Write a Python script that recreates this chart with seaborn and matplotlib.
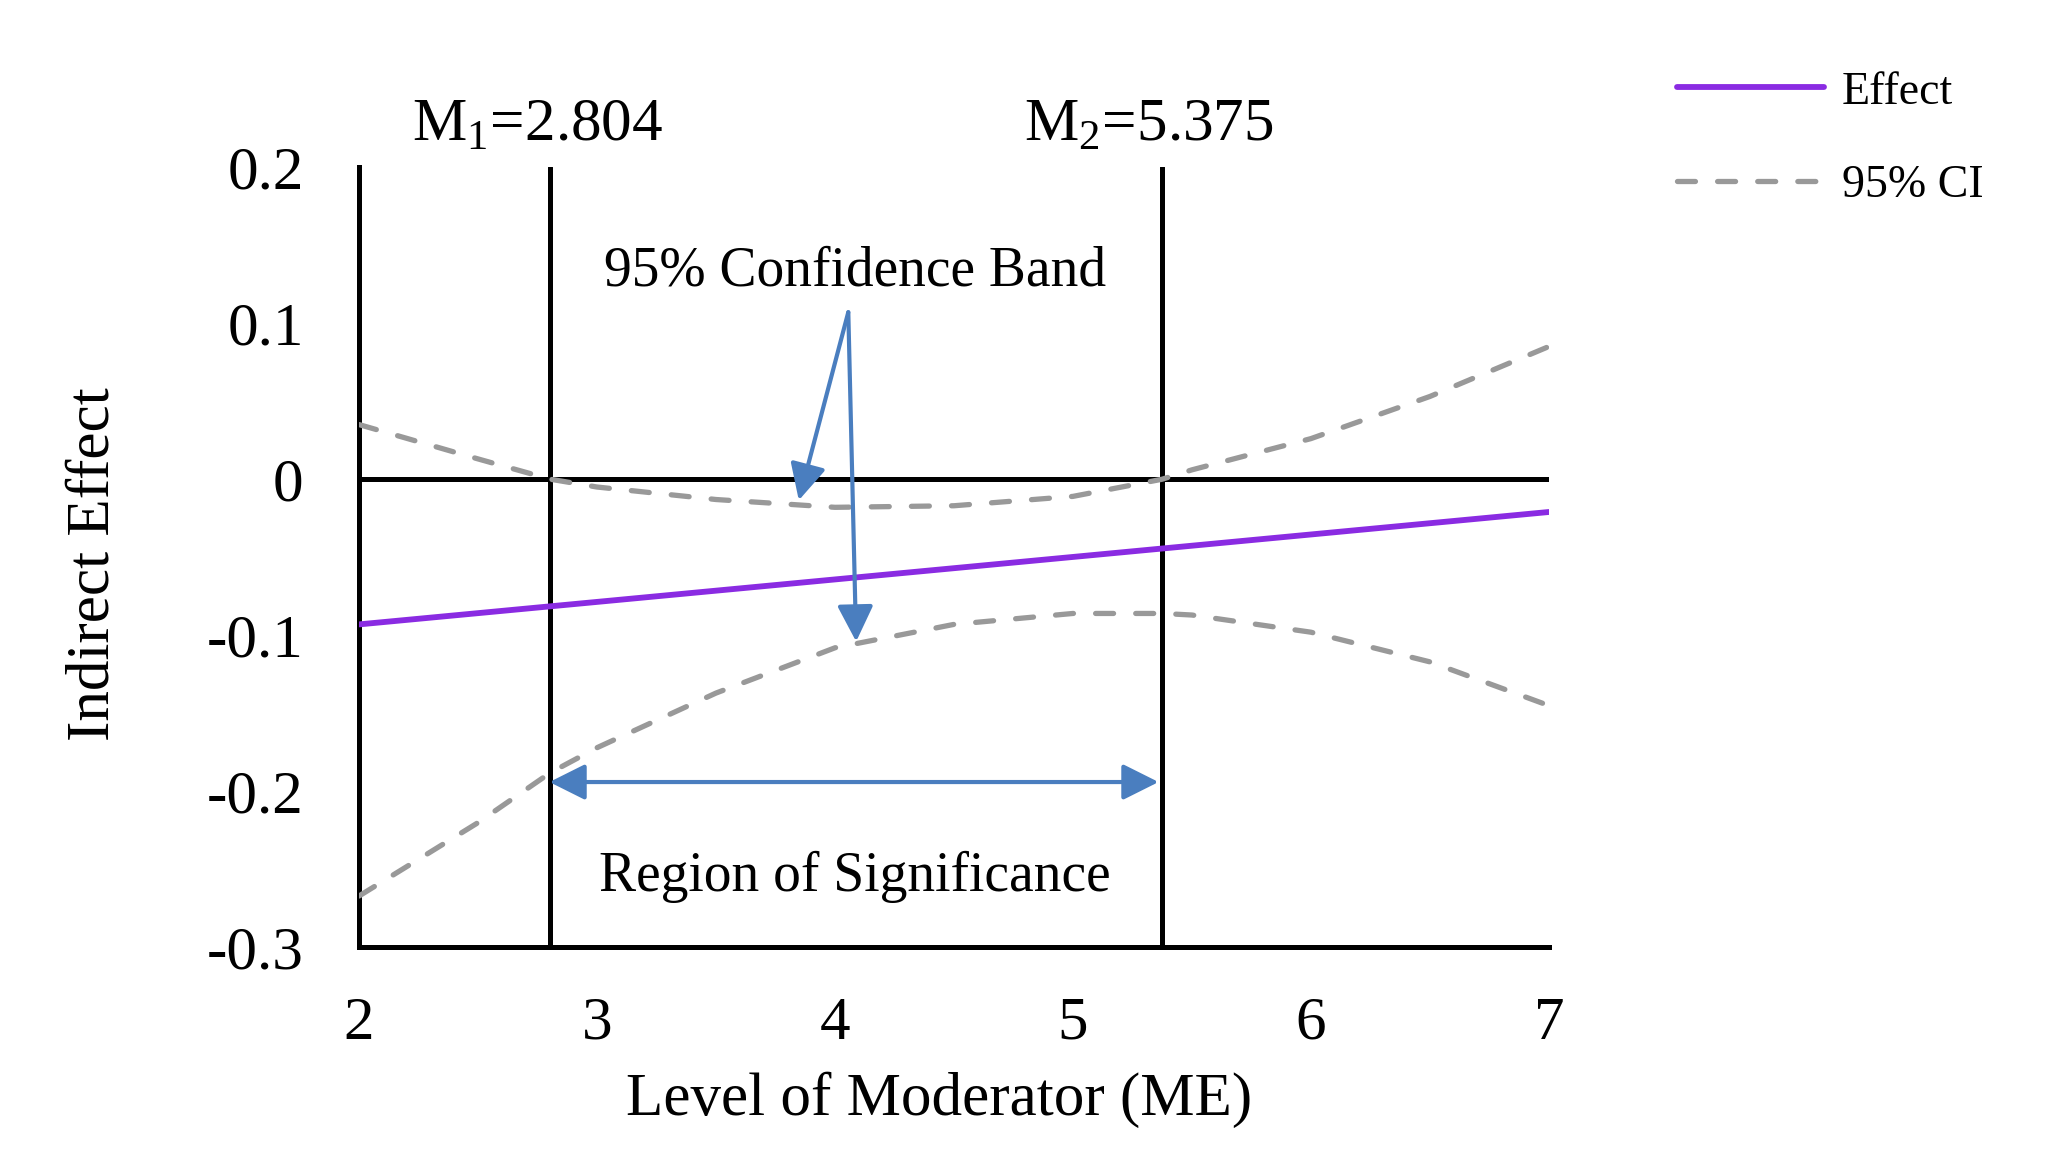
import numpy as np
import pandas as pd
import matplotlib
matplotlib.use("Agg")
import matplotlib.pyplot as plt
import seaborn as sns

# values
mod_levels = [2, 2.5, 2.804, 3, 3.5, 4, 4.5, 5, 5.375, 5.5, 6, 6.5, 7]
ci_upper = [0.035, 0.013, 0.0, -0.005, -0.013, -0.018, -0.017, -0.011, 0.0, 0.006, 0.026, 0.053, 0.085]
ci_lower = [-0.267, -0.220, -0.188, -0.172, -0.137, -0.108, -0.093, -0.086, -0.086, -0.087, -0.098, -0.117, -0.145]
effect_x = [2, 7]
effect_y = [-0.093, -0.021]

jn_points = [2.804, 5.375]
jn_labels = ["M$_{\\mathrm{1}}$=2.804", "M$_{\\mathrm{2}}$=5.375"]
x_ticks = [2, 3, 4, 5, 6, 7]
y_ticks = [0.2, 0.1, 0, -0.1, -0.2, -0.3]
y_ticklabels = ["0.2", "0.1", "0", "-0.1", "-0.2", "-0.3"]

sns.set_style("white")
plt.rcParams["font.family"] = ["Liberation Serif", "DejaVu Serif"]
plt.rcParams["mathtext.fontset"] = "custom"
plt.rcParams["mathtext.rm"] = "Liberation Serif"
for key in ["text.color", "axes.labelcolor", "xtick.color", "ytick.color"]:
    plt.rcParams[key] = "black"

purple = "#8a2be2"
gray = "#999999"
blue = "#4a7ebf"

fig = plt.figure(figsize=(20.46, 11.64), dpi=100)
ax = fig.add_axes([0.1755, 0.186, 0.757 - 0.1755, 0.8565 - 0.186])

# reference lines
ax.axhline(0, color="black", lw=3.6, zorder=2)
for m in jn_points:
    ax.axvline(m, color="black", lw=3.6, zorder=2)

# effect and confidence band
sns.lineplot(x=effect_x, y=effect_y, color=purple, lw=4.2, ax=ax, label="Effect", zorder=4)
ci_df = pd.DataFrame({"x": mod_levels, "upper": ci_upper, "lower": ci_lower})
sns.lineplot(data=ci_df, x="x", y="upper", color=gray, lw=3.8, ax=ax, label="95% CI",
             dashes=False, zorder=3)
sns.lineplot(data=ci_df, x="x", y="lower", color=gray, lw=3.8, ax=ax, zorder=3)
for ln in ax.get_lines()[-2:]:
    ln.set_linestyle((0, (3.4, 4.2)))
    ln.set_dash_capstyle("round")

ax.set_xlim(2, 7)
ax.set_ylim(-0.3, 0.2)
ax.set_xticks(x_ticks)
ax.set_xticklabels([str(t) for t in x_ticks])
ax.set_yticks(y_ticks)
ax.set_yticklabels(y_ticklabels)
ax.tick_params(axis="both", length=0, labelsize=44)
ax.tick_params(axis="x", pad=35)
ax.tick_params(axis="y", pad=40)
ax.set_xlabel("")
ax.set_ylabel("")
for side in ["top", "right"]:
    ax.spines[side].set_visible(False)
for side in ["left", "bottom"]:
    ax.spines[side].set_color("black")
    ax.spines[side].set_linewidth(3.6)

# threshold labels
for m, lab in zip(jn_points, jn_labels):
    ax.text(m - 0.055, 0.217, lab, ha="center", va="baseline", fontsize=44, clip_on=False)

# annotations
ax.text(4.083, 0.124, "95% Confidence Band", ha="center", va="baseline", fontsize=40)
ax.text(4.083, -0.264, "Region of Significance", ha="center", va="baseline", fontsize=40)
arrow = dict(arrowstyle="-|>", color=blue, lw=3, mutation_scale=55, shrinkA=0, shrinkB=0)
ax.annotate("", xy=(3.848, -0.0135), xytext=(4.056, 0.107), arrowprops=arrow, zorder=5)
ax.annotate("", xy=(4.089, -0.104), xytext=(4.056, 0.107), arrowprops=arrow, zorder=5)
ax.annotate("", xy=(5.36, -0.194), xytext=(2.80, -0.194),
            arrowprops=dict(arrowstyle="<|-|>", color=blue, lw=3, mutation_scale=55,
                            shrinkA=0, shrinkB=0), zorder=5)

fig.text(0.046, 0.515, "Indirect Effect", rotation=90, ha="center", va="center", fontsize=44)
fig.text(0.459, 0.055, "Level of Moderator (ME)", ha="center", va="center", fontsize=44)

handles, labels = ax.get_legend_handles_labels()
ax.legend(handles, labels, loc="upper left", bbox_to_anchor=(0.8196, 0.939),
          bbox_transform=fig.transFigure, frameon=False, fontsize=33,
          handlelength=3.2, handletextpad=0.4, labelspacing=1.12,
          borderpad=0, borderaxespad=0)

fig.savefig("out.png", dpi=100)
